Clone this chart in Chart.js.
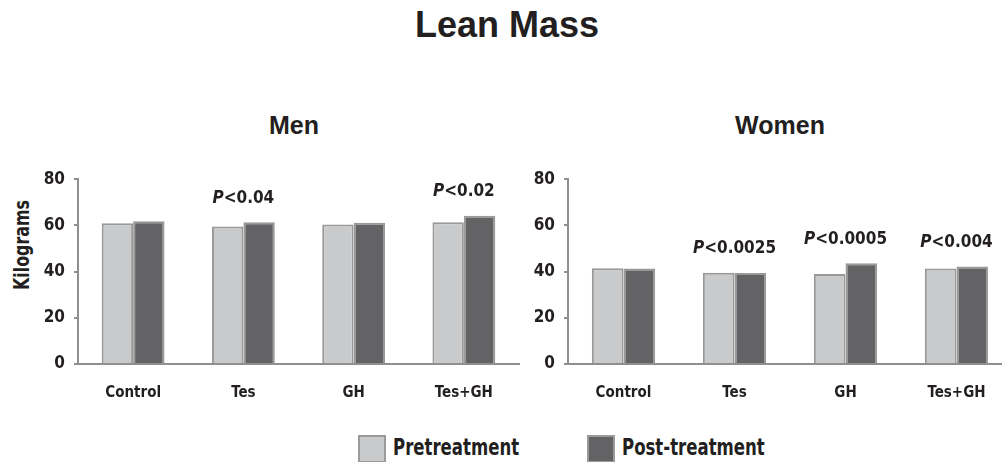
<!DOCTYPE html>
<html>
<head>
<meta charset="utf-8">
<title>Lean Mass</title>
<script src="https://cdn.jsdelivr.net/npm/chart.js@4/dist/chart.umd.min.js"></script>
<style>
  html, body { margin: 0; padding: 0; width: 1002px; height: 462px; overflow: hidden; background: #fff; }
  body { position: relative; font-family: 'Liberation Sans Narrow', 'DejaVu Sans Condensed', sans-serif; color: #231f20; }
  .abs { position: absolute; }
  #mainTitle { left: 6px; width: 1002px; top: 4px; text-align: center; font: bold 36px 'Liberation Sans', Arial, sans-serif; }
  .subTitle { top: 111px; text-align: center; font: bold 25px 'Liberation Sans', Arial, sans-serif; }
  #yTitle { left: 22px; top: 245px; transform: translate(-50%, -50%) rotate(-90deg) scaleX(0.84); font-weight: bold; font-size: 21px; white-space: nowrap; }
  .legBox { width: 24px; height: 24px; border: 2px solid #9a9a9a; }
  .legText { font-weight: bold; font-size: 23px; line-height: 28px; transform: scaleX(0.8); transform-origin: left center; white-space: nowrap; }
</style>
</head>
<body>
<div id="mainTitle" class="abs">Lean Mass</div>
<div class="abs subTitle" style="left:194px;width:200px;">Men</div>
<div class="abs subTitle" style="left:680px;width:200px;">Women</div>
<div id="yTitle" class="abs">Kilograms</div>

<div class="abs" style="left:0;top:160px;"><canvas id="menChart" width="520" height="250"></canvas></div>
<div class="abs" style="left:500px;top:160px;"><canvas id="womenChart" width="512" height="250"></canvas></div>

<div class="abs legBox" style="left:358px;top:435px;background:#c9cacc;"></div>
<div class="abs legText" style="left:393px;top:433px;">Pretreatment</div>
<div class="abs legBox" style="left:587px;top:435px;background:#636365;"></div>
<div class="abs legText" style="left:622px;top:433px;">Post-treatment</div>

<script>
'use strict';

// data
let categories = ['Control', 'Tes', 'GH', 'Tes+GH'];
let menPre = [60.9, 59.5, 60.4, 61.4];
let menPost = [61.8, 61.4, 61.1, 64.2];
let womenPre = [41.5, 39.5, 39.0, 41.3];
let womenPost = [41.3, 39.4, 43.6, 42.2];
let yTicks = [0, 20, 40, 60, 80];
// p-values shown above each group ('' = none)
let menP = ['', '<0.04', '', '<0.02'];
let womenP = ['', '<0.0025', '<0.0005', '<0.004'];

let textColor = '#231f20';
let axisColor = '#8f8f8f';
let narrow = "'Liberation Sans Narrow', 'DejaVu Sans Condensed', sans-serif";

// draws the P<... labels above the bars
let pLabelPlugin = {
  id: 'pLabels',
  afterDatasetsDraw(chart, args, opts) {
    let ctx = chart.ctx;
    let x = chart.scales.x;
    let y = chart.scales.y;
    let pre = chart.data.datasets[0].data;
    let post = chart.data.datasets[1].data;
    ctx.save();
    ctx.fillStyle = textColor;
    ctx.textBaseline = 'middle';
    for (let i = 0; i < opts.labels.length; i++) {
      let txt = opts.labels[i];
      if (!txt) {
        continue;
      }
      let cx = x.getPixelForValue(i);
      let cy = y.getPixelForValue(Math.max(pre[i], post[i])) - 24;
      let italic = 'italic bold 17px ' + narrow;
      let bold = 'bold 17px ' + narrow;
      ctx.font = italic;
      let w1 = ctx.measureText('P').width;
      ctx.font = bold;
      let w2 = ctx.measureText(txt).width;
      let left = cx - (w1 + w2) / 2;
      ctx.textAlign = 'left';
      ctx.font = italic;
      ctx.fillText('P', left, cy);
      ctx.font = bold;
      ctx.fillText(txt, left + w1, cy);
    }
    ctx.restore();
  }
};

function makeChart(id, pre, post, pLabels, yWidth, padRight) {
  let ctx = document.getElementById(id);
  return new Chart(ctx, {
    type: 'bar',
    data: {
      labels: categories,
      datasets: [
        {
          label: 'Pretreatment',
          data: pre,
          backgroundColor: '#c9cacc',
          borderColor: '#999999',
          borderWidth: 2,
          borderSkipped: 'bottom'
        },
        {
          label: 'Post-treatment',
          data: post,
          backgroundColor: '#636365',
          borderColor: '#999999',
          borderWidth: 2,
          borderSkipped: 'bottom'
        }
      ]
    },
    options: {
      responsive: false,
      animation: false,
      categoryPercentage: 0.57,
      barPercentage: 1.0,
      layout: { padding: { top: 11, right: padRight, left: 0, bottom: 0 } },
      plugins: {
        legend: { display: false },
        tooltip: { enabled: false },
        pLabels: { labels: pLabels }
      },
      scales: {
        x: {
          grid: { display: false },
          border: { display: true, color: axisColor, width: 2 },
          ticks: { color: textColor, padding: 12, font: { family: narrow, size: 15, weight: 'bold' } },
          afterFit(axis) { axis.height = 46; }
        },
        y: {
          min: 0,
          max: 80,
          afterBuildTicks(axis) { axis.ticks = yTicks.map(v => ({ value: v })); },
          grid: { drawOnChartArea: false, drawTicks: true, tickLength: 4, color: axisColor, lineWidth: 2 },
          border: { display: true, color: axisColor, width: 2 },
          ticks: { color: textColor, padding: 9, font: { family: narrow, size: 17, weight: 'bold' } },
          afterFit(axis) { axis.width = yWidth; }
        }
      }
    },
    plugins: [pLabelPlugin]
  });
}

makeChart('menChart', menPre, menPost, menP, 78, 1);
makeChart('womenChart', womenPre, womenPost, womenP, 68, 0);
</script>
</body>
</html>
